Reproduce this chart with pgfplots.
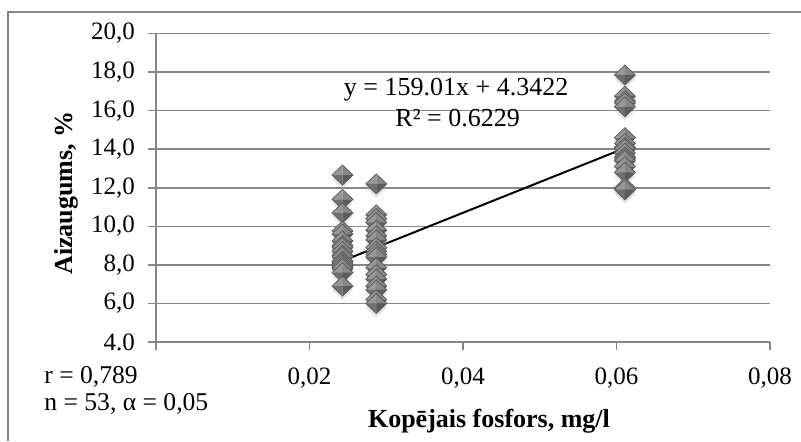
\documentclass[border=0pt]{standalone}
\usepackage{pgfplots}
\pgfplotsset{compat=1.18}
\usepackage{fontspec}
\setmainfont{Liberation Serif}
\definecolor{gridc}{RGB}{134,134,134}
\definecolor{pA}{RGB}{152,152,152}
\definecolor{pB}{RGB}{136,136,136}
\definecolor{pC}{RGB}{112,112,112}
\definecolor{pD}{RGB}{92,92,92}
\definecolor{pE}{RGB}{88,88,88}
\pgfdeclareplotmark{pyr}{%
  \pgfmathsetlengthmacro{\pw}{1.05*\pgfplotmarksize}%
  \begin{pgfscope}
  \pgfsetfillcolor{black!30}\pgfsetfillopacity{0.35}
  \pgfpathmoveto{\pgfqpoint{0pt}{0.6\pgfplotmarksize}}
  \pgfpathlineto{\pgfqpoint{\pw}{-0.4\pgfplotmarksize}}
  \pgfpathlineto{\pgfqpoint{0pt}{-1.4\pgfplotmarksize}}
  \pgfpathlineto{\pgfqpoint{-\pw}{-0.4\pgfplotmarksize}}
  \pgfpathclose\pgfusepath{fill}
  \end{pgfscope}
  \begin{pgfscope}
  \pgfsetfillcolor{pA}
  \pgfpathmoveto{\pgfqpoint{0pt}{\pgfplotmarksize}}
  \pgfpathlineto{\pgfqpoint{-\pw}{0pt}}
  \pgfpathlineto{\pgfqpoint{0pt}{0pt}}
  \pgfpathclose\pgfusepath{fill}
  \pgfsetfillcolor{pB}
  \pgfpathmoveto{\pgfqpoint{0pt}{\pgfplotmarksize}}
  \pgfpathlineto{\pgfqpoint{\pw}{0pt}}
  \pgfpathlineto{\pgfqpoint{0pt}{0pt}}
  \pgfpathclose\pgfusepath{fill}
  \pgfsetfillcolor{pC}
  \pgfpathmoveto{\pgfqpoint{0pt}{-\pgfplotmarksize}}
  \pgfpathlineto{\pgfqpoint{-\pw}{0pt}}
  \pgfpathlineto{\pgfqpoint{0pt}{0pt}}
  \pgfpathclose\pgfusepath{fill}
  \pgfsetfillcolor{pD}
  \pgfpathmoveto{\pgfqpoint{0pt}{-\pgfplotmarksize}}
  \pgfpathlineto{\pgfqpoint{\pw}{0pt}}
  \pgfpathlineto{\pgfqpoint{0pt}{0pt}}
  \pgfpathclose\pgfusepath{fill}
  \pgfsetstrokecolor{pE}\pgfsetlinewidth{0.35pt}
  \pgfpathmoveto{\pgfqpoint{0pt}{\pgfplotmarksize}}
  \pgfpathlineto{\pgfqpoint{\pw}{0pt}}
  \pgfpathlineto{\pgfqpoint{0pt}{-\pgfplotmarksize}}
  \pgfpathlineto{\pgfqpoint{-\pw}{0pt}}
  \pgfpathclose\pgfusepath{stroke}
  \end{pgfscope}
}
\begin{document}
\begin{tikzpicture}
\useasboundingbox (-78pt,-49.5pt) rectangle (322.5pt,171pt);
\draw[gridc, line width=1.25pt] (-74pt,-49.5pt) -- (-74pt,165pt) -- (322.5pt,165pt);
\begin{axis}[
  at={(0pt,0pt)}, anchor=south west,
  scale only axis, width=307pt, height=154.25pt,
  xmin=0, xmax=0.08, ymin=4, ymax=20,
  scaled x ticks=false, scaled y ticks=false,
  axis x line*=bottom, axis y line*=left,
  axis line style={gridc, line width=0.75pt, -},
  xtick={0,0.02,0.04,0.06,0.08},
  xticklabels={{},{0,02},{0,04},{0,06},{0,08}},
  ytick={4,6,8,10,12,14,16,18,20},
  yticklabels={{4.0},{6,0},{8,0},{10,0},{12,0},{14,0},{16,0},{18,0},{20,0}},
  ymajorgrids, major grid style={gridc, line width=0.75pt},
  tick style={gridc, line width=0.75pt},
  tick align=outside, major tick length=4pt,
  ticklabel style={font=\fontsize{12.5}{14}\selectfont},
  yticklabel style={anchor=east, xshift=-3pt},
  xticklabel style={anchor=north, yshift=-5.5pt},
  clip=false,
]
\addplot[only marks, mark=pyr, mark size=5pt] coordinates {
 (0.0243,12.66) (0.0243,11.4) (0.0243,10.7) (0.0243,9.76) (0.0243,9.6)
 (0.0243,9.24) (0.0243,9.0) (0.0243,8.9) (0.0243,8.7) (0.0243,8.5)
 (0.0243,8.4) (0.0243,8.2) (0.0243,8.1) (0.0243,8.0) (0.0243,7.9)
 (0.0243,7.8) (0.0243,7.6) (0.0243,6.9)
 (0.0287,12.2) (0.0287,10.6) (0.0287,10.4) (0.0287,10.2) (0.0287,9.8)
 (0.0287,9.5) (0.0287,9.3) (0.0287,8.9) (0.0287,8.7) (0.0287,8.55)
 (0.0287,8.4) (0.0287,7.86) (0.0287,7.5) (0.0287,7.26) (0.0287,6.9)
 (0.0287,6.7) (0.0287,6.2) (0.0287,6.0)
 (0.0611,17.85) (0.0611,16.75) (0.0611,16.5) (0.0611,16.4) (0.0611,16.2)
 (0.0611,14.6) (0.0611,14.3) (0.0611,14.1) (0.0611,14.0) (0.0611,13.8)
 (0.0611,13.6) (0.0611,13.5) (0.0611,13.4) (0.0611,13.1) (0.0611,12.8)
 (0.0611,12.0) (0.0611,11.9)
};
\addplot[black, line width=1pt, no marks] coordinates {(0.0243,8.206) (0.0611,14.058)};
\node[font=\fontsize{13}{15}\selectfont] at (axis cs:0.0391,17.09) {y = 159.01x + 4.3422};
\node[font=\fontsize{13}{15}\selectfont] at (axis cs:0.0393,15.64) {R² = 0.6229};
\end{axis}
\node[anchor=west, inner sep=0pt, font=\fontsize{12.8}{14}\selectfont] at (-56pt,-17.5pt) {r = 0,789};
\node[anchor=west, inner sep=0pt, font=\fontsize{12.8}{14}\selectfont] at (-56pt,-31pt) {n = 53, α = 0,05};
\node[font=\bfseries\fontsize{13}{15}\selectfont] at (166.5pt,-39.5pt) {Kopējais fosfors, mg/l};
\node[rotate=90, font=\bfseries\fontsize{13}{15}\selectfont] at (-45pt,74.5pt) {Aizaugums, \%};
\end{tikzpicture}
\end{document}
